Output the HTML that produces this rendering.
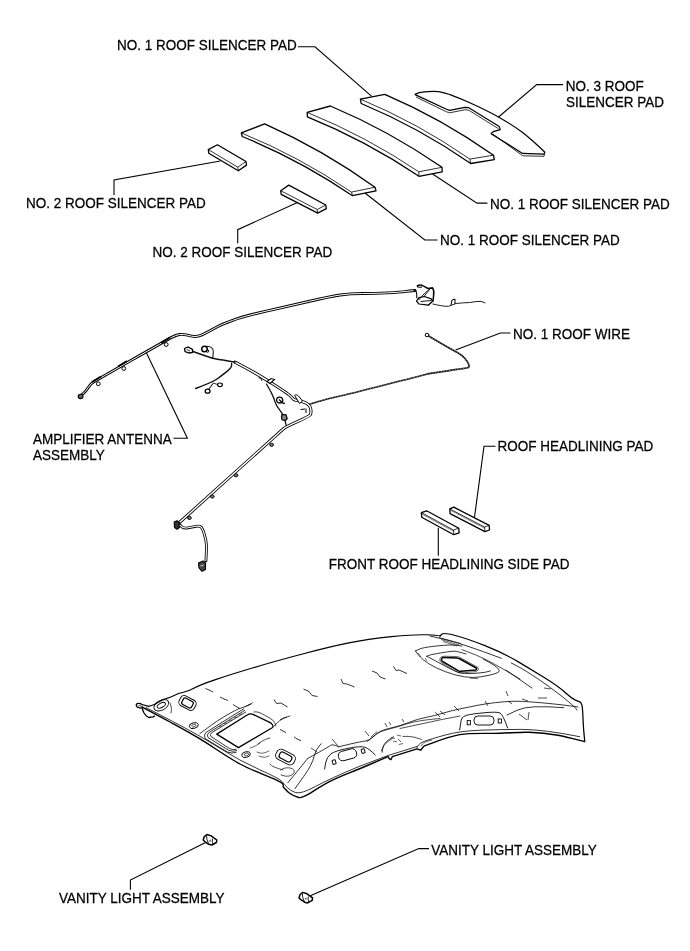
<!DOCTYPE html>
<html><head><meta charset="utf-8"><style>
html,body{margin:0;padding:0;background:#fff;width:690px;height:951px;overflow:hidden;}
svg{display:block;will-change:transform;}
text{font-family:"Liberation Sans",sans-serif;font-size:13.5px;fill:#000;stroke:#000;stroke-width:0.25px;}
</style></head><body>
<svg width="690" height="951" viewBox="0 0 690 951">
<path d="M360.4,99.1 L384.8,94.3 Q442.4,119.0 493.5,155.2 L494.3,159.6 L470.7,163.5 Q419.1,127.7 361.2,103.5 Z" fill="#fff" stroke="#000" stroke-width="1.3" stroke-linejoin="round"/><path d="M360.4,99.1 Q418.3,123.3 469.9,159.1 L493.5,155.2 M469.9,159.1 L470.7,163.5" fill="none" stroke="#000" stroke-width="0.8"/>
<path d="M307.2,112.4 L330.4,106.0 Q389.4,130.9 442.0,167.3 L442.2,171.8 L419.0,176.3 Q366.3,140.8 307.4,116.9 Z" fill="#fff" stroke="#000" stroke-width="1.3" stroke-linejoin="round"/><path d="M307.2,112.4 Q366.1,136.3 418.8,171.8 L442.0,167.3 M418.8,171.8 L419.0,176.3" fill="none" stroke="#000" stroke-width="0.8"/>
<path d="M241.3,132.9 L264.7,123.8 Q323.1,149.8 375.0,187.2 L376.0,190.8 L352.5,195.7 Q300.5,160.3 242.3,136.5 Z" fill="#fff" stroke="#000" stroke-width="1.3" stroke-linejoin="round"/><path d="M241.3,132.9 Q299.5,156.7 351.5,192.1 L375.0,187.2 M351.5,192.1 L352.5,195.7" fill="none" stroke="#000" stroke-width="0.8"/>
<path d="M208.3,149.6 L217.4,144.7 Q231.7,153.1 246.0,161.5 L246.5,165.1 L238.3,170.8 Q223.6,162.0 208.8,153.2 Z" fill="#fff" stroke="#000" stroke-width="1.3" stroke-linejoin="round"/><path d="M208.3,149.6 Q223.1,158.4 237.8,167.2 L246.0,161.5 M237.8,167.2 L238.3,170.8" fill="none" stroke="#000" stroke-width="0.8"/>
<path d="M280.7,190.7 L288.8,185.1 Q307.3,195.1 325.8,205.0 L326.3,208.6 L317.7,213.1 Q299.4,203.7 281.2,194.3 Z" fill="#fff" stroke="#000" stroke-width="1.3" stroke-linejoin="round"/><path d="M280.7,190.7 Q298.9,200.1 317.2,209.5 L325.8,205.0 M317.2,209.5 L317.7,213.1" fill="none" stroke="#000" stroke-width="0.8"/>
<path d="M415.1,94.3 C416.3,93.9 418.3,92.5 422.2,92.1 C426.1,91.6 433.7,91.1 438.4,91.6 C443.1,92.1 445.2,93.0 450.6,94.9 C456.0,96.9 462.8,99.5 470.9,103.3 C479.0,107.0 490.8,112.7 499.2,117.4 C507.6,122.1 515.5,127.3 521.6,131.7 C527.7,136.1 531.9,140.4 535.8,143.8 C539.7,147.2 543.4,150.9 544.9,152.3 L543.9,154.2 L522.6,153.4 L491.1,133.7 L493.2,131.7 L500.3,129.6 L499.2,126.6 L468.8,107.7 L464.8,107.3 L449.6,110.4 L446.5,109.3 L415.1,94.6 Z" fill="#fff" stroke="#000" stroke-width="1.2" stroke-linejoin="round"/>
<path d="M416,97 L446.5,111.8 L449.6,112.8 L464.8,109.8 L468.8,110.2 L498.5,128.8 M493,134.2 L522.8,155.8 L544,156.3 L544.5,154" fill="none" stroke="#000" stroke-width="0.8"/>
<polyline points="298,46.8 315,46.8 371.7,96.3" fill="none" stroke="#000" stroke-width="1.1"/>
<polyline points="563,84.6 536.7,84.6 498.6,117" fill="none" stroke="#000" stroke-width="1.1"/>
<polyline points="220.3,161 114,179.9 114,195" fill="none" stroke="#000" stroke-width="1.1"/>
<polyline points="297.4,202.4 237.7,229.7 237.7,243.3" fill="none" stroke="#000" stroke-width="1.1"/>
<polyline points="432.6,174 477,203.1 487.4,203.1" fill="none" stroke="#000" stroke-width="1.1"/>
<polyline points="365,193 424.8,240 437.5,240" fill="none" stroke="#000" stroke-width="1.1"/>
<path d="M82.0,394.5 L84.0,392.8 Q86.0,391.0 88.5,387.2 Q91.0,383.5 93.5,382.0 Q96.0,380.5 131.7,360.1 Q167.4,339.7 171.7,337.4 Q176.0,335.0 179.5,334.5 Q183.0,334.0 187.5,335.2 Q192.0,336.5 195.0,336.5 Q198.0,336.5 202.0,334.8 Q206.0,333.0 210.0,330.8 Q214.0,328.5 217.8,326.5 Q221.7,324.5 232.6,320.4 Q243.5,316.3 265.2,311.4 Q287.0,306.5 308.5,301.5 Q330.0,296.5 340.0,295.0 Q350.0,293.5 362.5,293.5 Q375.0,293.5 387.5,292.9 Q400.0,292.2 406.5,291.4 Q413.0,290.5 415.0,290.5" fill="none" stroke="#000" stroke-width="2.9" stroke-linecap="round" stroke-linejoin="round"/><path d="M82.0,394.5 L84.0,392.8 Q86.0,391.0 88.5,387.2 Q91.0,383.5 93.5,382.0 Q96.0,380.5 131.7,360.1 Q167.4,339.7 171.7,337.4 Q176.0,335.0 179.5,334.5 Q183.0,334.0 187.5,335.2 Q192.0,336.5 195.0,336.5 Q198.0,336.5 202.0,334.8 Q206.0,333.0 210.0,330.8 Q214.0,328.5 217.8,326.5 Q221.7,324.5 232.6,320.4 Q243.5,316.3 265.2,311.4 Q287.0,306.5 308.5,301.5 Q330.0,296.5 340.0,295.0 Q350.0,293.5 362.5,293.5 Q375.0,293.5 387.5,292.9 Q400.0,292.2 406.5,291.4 Q413.0,290.5 415.0,290.5" fill="none" stroke="#fff" stroke-width="1.0" stroke-linejoin="round"/>
<path d="M414.0,290.5 L415.4,290.6 Q416.8,290.8 416.8,297.7" fill="none" stroke="#111" stroke-width="1.2000000000000002" stroke-linecap="round" stroke-linejoin="round"/>
<ellipse cx="80.6" cy="396.4" rx="2.4" ry="2.2" fill="#666" stroke="#000" stroke-width="1.1"/>
<path d="M92,382 L101,376.5" stroke="#000" stroke-width="1.8"/>
<circle cx="98.3" cy="383.8" r="1.9" fill="#fff" stroke="#000" stroke-width="1"/>
<path d="M118,366.5 L127,361" stroke="#000" stroke-width="1.8"/>
<circle cx="123.8" cy="368.5" r="1.9" fill="#fff" stroke="#000" stroke-width="1"/>
<path d="M161,343 L170,337.5" stroke="#000" stroke-width="1.8"/>
<circle cx="166.2" cy="344.5" r="1.9" fill="#fff" stroke="#000" stroke-width="1"/>
<path d="M416.5,301.2 L419,297.7 L424.3,296.5 L431.3,298.9 L432.5,301.2 L428.4,305.2 L419,304 Z" fill="#fff" stroke="#000" stroke-width="1.2" stroke-linejoin="round"/>
<path d="M417.4,285.8 C419,284.5 422,285 422,285.5 C424,286 426,287.5 427.8,288.4 L432.5,287.9 C434,290 434,293 433.6,295.4 L433,301.2" fill="none" stroke="#000" stroke-width="1.5" stroke-linecap="round"/>
<path d="M417.4,285.8 C417,287 419,287.5 422,287" fill="none" stroke="#000" stroke-width="1.1"/>
<path d="M418.6,300 L424,294 L429,289.6 M424,296.5 L430,289 M420.5,301.5 L431,300.5 M428.4,305.2 L433,301" fill="none" stroke="#000" stroke-width="0.9"/>
<path d="M432.8,304.0 L436.4,304.8 Q440.0,305.5 444.5,306.2 Q449.0,307.0 452.0,305.0 Q455.0,303.0 462.5,302.9 Q470.0,302.8 475.8,301.6 Q481.5,300.5 485.0,302.8" fill="none" stroke="#111" stroke-width="0.96" stroke-linecap="round" stroke-linejoin="round"/>
<path d="M451,305 L452,300 L455,299 L455,304" fill="none" stroke="#000" stroke-width="1"/>
<path d="M427.4,335.3 L440.4,342.9 Q453.5,350.4 457.8,352.7 Q462.0,355.0 465.0,358.5 Q468.0,362.0 468.8,364.5 Q469.5,367.0 468.2,367.6 Q467.0,368.3 449.0,370.6 Q431.0,373.0 425.5,374.5 Q420.0,376.0 383.5,385.2 Q347.0,394.5 343.5,395.2 Q340.0,396.0 332.5,397.7 Q325.0,399.4 309.6,404.3" fill="none" stroke="#111" stroke-width="1.6800000000000002" stroke-linecap="round" stroke-linejoin="round"/>
<path d="M427.4,335.3 L440.4,342.9 Q453.5,350.4 457.8,352.7 Q462.0,355.0 465.0,358.5 Q468.0,362.0 468.8,364.5 Q469.5,367.0 468.2,367.6 Q467.0,368.3 449.0,370.6 Q431.0,373.0 425.5,374.5 Q420.0,376.0 383.5,385.2 Q347.0,394.5 343.5,395.2 Q340.0,396.0 332.5,397.7 Q325.0,399.4 309.6,404.3" fill="none" stroke="#fff" stroke-width="0.5" stroke-dasharray="1.2 1.6"/>
<circle cx="427" cy="335" r="1.8" fill="#fff" stroke="#000" stroke-width="1"/>
<path d="M235.0,362.2 L244.9,367.4 Q254.8,372.5 272.2,383.5 Q289.6,394.5 291.5,397.1 Q293.3,399.8 295.9,400.3 Q298.4,400.8 300.9,401.3 Q303.5,401.8 306.1,403.1 Q308.6,404.3 309.8,406.4 Q311.0,408.4 311.0,410.9 Q311.0,413.5 310.3,414.8 Q309.6,416.0 297.9,421.4 Q286.2,426.7 284.2,428.2 Q282.2,429.7 276.1,435.4 Q270.0,441.0 177.2,524.5" fill="none" stroke="#000" stroke-width="3.1" stroke-linecap="round" stroke-linejoin="round"/><path d="M235.0,362.2 L244.9,367.4 Q254.8,372.5 272.2,383.5 Q289.6,394.5 291.5,397.1 Q293.3,399.8 295.9,400.3 Q298.4,400.8 300.9,401.3 Q303.5,401.8 306.1,403.1 Q308.6,404.3 309.8,406.4 Q311.0,408.4 311.0,410.9 Q311.0,413.5 310.3,414.8 Q309.6,416.0 297.9,421.4 Q286.2,426.7 284.2,428.2 Q282.2,429.7 276.1,435.4 Q270.0,441.0 177.2,524.5" fill="none" stroke="#fff" stroke-width="1.4" stroke-linejoin="round"/>
<path d="M184.5,348.5 L188,347 L192.5,349.5 L192.5,352.5 L189,353 L185,351.5 Z" fill="#fff" stroke="#000" stroke-width="1.3"/><path d="M186.5,349.5 L190,351" stroke="#000" stroke-width="0.8"/>
<path d="M193.0,351.5 L202.8,355.0 Q212.6,358.5 216.3,359.0 Q220.0,359.5 235.0,362.2" fill="none" stroke="#111" stroke-width="1.36" stroke-linecap="round" stroke-linejoin="round"/>
<circle cx="204.5" cy="349" r="2.8" fill="#fff" stroke="#000" stroke-width="1.4"/>
<circle cx="207.5" cy="351" r="1.3" fill="none" stroke="#000" stroke-width="0.9"/>
<path d="M206.0,346.2 L208.5,346.4 Q211.0,346.5 212.5,348.8 Q214.0,351.0 212.6,358.5" fill="none" stroke="#111" stroke-width="1.04" stroke-linecap="round" stroke-linejoin="round"/>
<path d="M231.6,363.2 L231.6,365.5 Q231.6,367.8 225.8,372.4 Q220.0,377.0 216.3,379.5 Q212.6,382.0 195.6,388.5" fill="none" stroke="#111" stroke-width="1.36" stroke-linecap="round" stroke-linejoin="round"/>
<ellipse cx="220" cy="384.8" rx="2.4" ry="1.8" fill="#fff" stroke="#000" stroke-width="1.2"/>
<path d="M213.0,383.0 L217.5,384.5" fill="none" stroke="#111" stroke-width="0.8800000000000001" stroke-linecap="round" stroke-linejoin="round"/>
<path d="M212.6,384.0 L210.8,386.5 Q209.0,389.0 207.4,391.0" fill="none" stroke="#111" stroke-width="1.04" stroke-linecap="round" stroke-linejoin="round"/>
<ellipse cx="207.6" cy="391.2" rx="2.4" ry="2" fill="#fff" stroke="#000" stroke-width="1.3"/>
<path d="M266.4,384.0 L268.2,387.0 Q270.0,390.0 272.0,394.1 Q274.0,398.3 275.0,401.9 Q276.0,405.4 279.6,409.9 Q283.2,414.5 284.2,417.6 Q285.2,420.6 286.2,425.6" fill="none" stroke="#111" stroke-width="1.2800000000000002" stroke-linecap="round" stroke-linejoin="round"/>
<path d="M276.5,399.5 C277,397 280,396.5 282,398 C283.5,400 283,403 280,403 C278,403 276.5,401.5 276.5,399.5 Z" fill="#fff" stroke="#000" stroke-width="1.3"/>
<path d="M279,399.5 L283.5,403.5 L285,403" fill="none" stroke="#000" stroke-width="1.2"/>
<path d="M282,414.5 L286,414.8 L287.2,418.5 L285.5,420.5 L282,419.8 L281.5,417 Z" fill="#888" stroke="#000" stroke-width="1.2"/>
<path d="M267,381.5 L271,378.5 L274.5,379.5 L270,383.5 Z" fill="#fff" stroke="#000" stroke-width="1.1"/>
<path d="M258.5,378 L260.5,377.8 L262,381" fill="none" stroke="#000" stroke-width="0.9"/>
<path d="M294.6,395.5 C295,394.5 297,394.5 298.5,396 L302.5,401 L299.5,403.5 Z" fill="#fff" stroke="#000" stroke-width="1"/>
<path d="M300.5,409.5 L305,409 M306,408.5 L306,413" fill="none" stroke="#000" stroke-width="1"/>
<ellipse cx="271.6" cy="444.8" rx="1.9" ry="1.6" fill="#777" stroke="#000" stroke-width="0.9"/>
<ellipse cx="236" cy="475.3" rx="1.9" ry="1.6" fill="#777" stroke="#000" stroke-width="0.9"/>
<ellipse cx="212.3" cy="496.5" rx="1.9" ry="1.6" fill="#777" stroke="#000" stroke-width="0.9"/>
<ellipse cx="189.4" cy="517.9" rx="1.9" ry="1.6" fill="#777" stroke="#000" stroke-width="0.9"/>
<path d="M174.2,522 L177,520.8 L179.7,523 L179.5,527.5 L177,529.3 L174.5,527.5 Z" fill="#333" stroke="#000" stroke-width="1.1" stroke-linejoin="round"/>
<path d="M179.7,524.9 L181.9,526.8 Q184.1,528.6 188.1,527.8 Q192.2,527.0 195.9,526.3 Q199.6,525.6 201.1,527.1 Q202.6,528.6 204.4,534.5 Q206.2,540.3 206.4,544.8 Q206.6,549.2 205.9,561.0" fill="none" stroke="#000" stroke-width="2.8" stroke-linecap="round" stroke-linejoin="round"/><path d="M179.7,524.9 L181.9,526.8 Q184.1,528.6 188.1,527.8 Q192.2,527.0 195.9,526.3 Q199.6,525.6 201.1,527.1 Q202.6,528.6 204.4,534.5 Q206.2,540.3 206.4,544.8 Q206.6,549.2 205.9,561.0" fill="none" stroke="#fff" stroke-width="1.1" stroke-linejoin="round"/>
<path d="M198.5,563 L203,561 L205.5,563.5 L205.5,569.5 L202,571.3 L199,568 Z" fill="#444" stroke="#000" stroke-width="1.1" stroke-linejoin="round"/>
<path d="M200.5,566 L203.5,565" stroke="#fff" stroke-width="0.8"/>
<polyline points="146.5,353 187.4,438.3 173.5,438.3" fill="none" stroke="#000" stroke-width="1.1"/>
<polyline points="455.6,350 500.4,333 510.5,333" fill="none" stroke="#000" stroke-width="1.1"/>
<path d="M449.8,508.9 L453.8,507.2 Q471.5,516.2 489.2,525.3 L489.5,530.0 L484.9,531.7 Q467.5,522.7 450.1,513.6 Z" fill="#fff" stroke="#000" stroke-width="1.3" stroke-linejoin="round"/><path d="M449.8,508.9 Q467.2,518.0 484.6,527.0 L489.2,525.3 M484.6,527.0 L484.9,531.7" fill="none" stroke="#000" stroke-width="0.8"/>
<path d="M450.3,510.2 L484.9,528.4" stroke="#000" stroke-width="0.5"/>
<path d="M421.4,512.6 L426.6,510.8 Q442.7,519.5 458.8,528.2 L459.1,532.9 L453.8,534.7 Q437.8,526.0 421.7,517.3 Z" fill="#fff" stroke="#000" stroke-width="1.3" stroke-linejoin="round"/><path d="M421.4,512.6 Q437.4,521.3 453.5,530.0 L458.8,528.2 M453.5,530.0 L453.8,534.7" fill="none" stroke="#000" stroke-width="0.8"/>
<path d="M421.9,514 L453.8,531.4" stroke="#000" stroke-width="0.5"/>
<polyline points="474.5,517.3 484,446.3 495.5,446.3" fill="none" stroke="#000" stroke-width="1.1"/>
<polyline points="438.3,527.8 438.3,555.7" fill="none" stroke="#000" stroke-width="1.1"/>
<path d="M148.6,706.4 L150.9,705.8 Q153.2,705.3 157.8,702.4 Q162.5,699.5 165.4,698.9 Q168.3,698.3 173.5,695.7 Q178.7,693.1 183.3,692.2 Q188.0,691.4 193.8,688.2 Q199.6,685.0 215.5,679.6 Q231.4,674.3 253.2,667.8 Q275.0,661.2 302.5,654.0 Q330.0,646.7 348.8,642.9 Q367.6,639.0 391.5,636.6 Q415.4,634.3 426.5,634.8 Q437.7,635.3 440.0,636.0" fill="none" stroke="#000" stroke-width="1.15" stroke-linecap="round" stroke-linejoin="round"/>
<path d="M440.0,636.0 L441.8,634.2 Q443.5,632.4 455.2,635.5 Q467.0,638.5 485.5,645.9 Q504.0,653.3 518.0,661.6 Q531.9,670.0 545.0,678.0 Q558.0,686.0 565.2,692.5 Q572.5,699.0 575.4,700.1 Q578.3,701.2 579.8,701.9 Q581.2,702.6 581.9,705.2 Q582.6,707.7 583.0,717.9 Q583.3,728.0 584.8,741.5" fill="none" stroke="#000" stroke-width="1.25" stroke-linecap="round" stroke-linejoin="round"/>
<path d="M430.0,636.0 L446.0,639.8 Q462.0,643.5 501.4,658.3" fill="none" stroke="#000" stroke-width="0.8" stroke-linecap="round" stroke-linejoin="round"/>
<path d="M511.3,663.0 L518.0,666.5 Q524.6,670.0 537.7,678.7 Q550.7,687.4 563.0,697.2 Q575.4,707.0 577.0,710.0" fill="none" stroke="#000" stroke-width="0.8" stroke-linecap="round" stroke-linejoin="round"/>
<path d="M505.8,670.0 L531.9,688.0" fill="none" stroke="#000" stroke-width="0.8" stroke-linecap="round" stroke-linejoin="round"/>
<path d="M462.0,649.6 L475.4,654.8 Q488.7,660.0 520.0,679.0" fill="none" stroke="#000" stroke-width="0.7" stroke-linecap="round" stroke-linejoin="round"/>
<path d="M439,637.5 L461,643.5 M441,639.5 L459,645 M443,641.5 L457,646" stroke="#000" stroke-width="0.6"/>
<path d="M148.6,706.4 L142.2,704.5 Q139.5,702.8 137.2,703.5 Q135.5,705 137,706.8 Q139.5,708 142.2,708.2 Q143,711 143.9,712.8 Q146,716.5 148.6,717.5 L153.2,716.9 L155,715.7" fill="none" stroke="#000" stroke-width="1.3" stroke-linejoin="round"/>
<path d="M138.5,705.5 L143,706.3" stroke="#000" stroke-width="0.7"/>
<path d="M141.6,706.8 C146.3,709.3 160.3,716.7 170.0,722.0 C179.7,727.3 187.9,731.7 199.6,738.7 C211.3,745.7 226.8,756.9 240.0,764.0 C253.2,771.1 271.9,777.5 279.1,781.4 C286.4,785.3 281.8,785.3 283.5,787.2 C285.2,789.1 286.9,791.3 289.3,793.0 C291.7,794.7 295.4,796.8 298.0,797.3 C300.6,797.8 299.9,798.5 305.2,795.9 C310.5,793.2 321.0,785.9 330.0,781.4 C339.0,776.9 349.3,773.1 359.0,769.0 C368.7,764.9 383.2,758.8 388.0,756.7 L389.4,758.9 L390.9,759.6 L392.3,756.7 L417,748.8 L420.6,750.2 L424.2,745.9  C430.1,744.0 447.1,736.7 459.7,734.6 C472.3,732.5 488.4,733.7 500.0,733.3 C511.6,732.9 519.3,732.0 529.0,732.3 C538.7,732.6 548.7,733.6 558.0,735.2 C567.3,736.8 580.3,740.6 584.8,741.7" fill="none" stroke="#000" stroke-width="1.4" stroke-linejoin="round"/>
<path d="M146.0,707.5 L172.8,721.5 Q199.6,735.5 219.8,748.2 Q240.0,761.0 259.8,769.8 Q279.5,778.5 282.0,781.5 Q284.5,784.5 287.2,787.5 Q290.0,790.5 295.4,792.5 Q300.9,794.4 315.4,786.5 Q330.0,778.5 359.0,766.5 Q388.0,754.5 417.0,746.5" fill="none" stroke="#000" stroke-width="0.8" stroke-linecap="round" stroke-linejoin="round"/>
<path d="M417.0,747.5 L418.4,745.2 Q419.9,743.0 424.9,741.1 Q430.0,739.3 444.9,735.1 Q459.7,731.0 479.9,730.2 Q500.0,729.4 521.8,729.4 Q543.5,729.4 579.7,736.7" fill="none" stroke="#000" stroke-width="0.8" stroke-linecap="round" stroke-linejoin="round"/>
<path d="M421.0,746.0 L422.5,744.0 Q424.0,742.0 432.0,740.0" fill="none" stroke="#000" stroke-width="0.6" stroke-linecap="round" stroke-linejoin="round"/>
<path d="M382.2,752.4 L382.9,748.0 Q383.6,743.7 392.3,738.6" fill="none" stroke="#000" stroke-width="0.7" stroke-linecap="round" stroke-linejoin="round"/>
<path d="M391,737.5 L395,738.5 M397,735 L401,736 M393,741 L397,742 M398,739 L401,742 M399,744.5 L403,743.5" stroke="#000" stroke-width="0.6"/>
<path d="M402.9,736.4 L408.1,736.4 Q413.3,736.4 421.5,739.3" fill="none" stroke="#000" stroke-width="0.7" stroke-linecap="round" stroke-linejoin="round"/>
<path d="M287.8,782.8 L308.0,758.2" fill="none" stroke="#000" stroke-width="0.8" stroke-linecap="round" stroke-linejoin="round"/>
<path d="M295.0,788.6 L303.8,776.3 Q312.5,764.0 313.9,756.8 Q315.4,749.5 321.0,743.7" fill="none" stroke="#000" stroke-width="0.8" stroke-linecap="round" stroke-linejoin="round"/>
<path d="M308.0,758.2 L309.2,757.6 Q310.4,757.0 319.5,751.9 Q328.7,746.8 330.7,745.3 Q332.7,743.8 338.8,746.8" fill="none" stroke="#000" stroke-width="0.8" stroke-linecap="round" stroke-linejoin="round"/>
<path d="M338.8,746.8 L349.9,744.1 Q361.0,741.5 365.1,741.1 Q369.2,740.7 374.3,735.7 Q379.4,730.6 389.7,728.3 Q400.0,726.0 408.7,722.5 Q417.4,719.0 426.1,717.4 Q434.8,715.7 443.5,713.0 Q452.2,710.4 460.9,708.7 Q469.6,707.0 478.3,705.2 Q487.0,703.5 495.6,702.6 Q504.3,701.7 512.1,701.3 Q520.0,700.9 541.9,702.8 Q563.8,704.8 578.0,707.0" fill="none" stroke="#000" stroke-width="0.8" stroke-linecap="round" stroke-linejoin="round"/>
<path d="M367.0,741.7 L369.3,740.0 Q371.6,738.2 375.6,734.7 Q379.7,731.2 387.2,729.5 Q394.8,727.8 406.4,724.0 Q418.0,720.2 440.0,718.5" fill="none" stroke="#000" stroke-width="0.7" stroke-linecap="round" stroke-linejoin="round"/>
<path d="M371.0,737.0 L377.0,731.5" fill="none" stroke="#000" stroke-width="0.6" stroke-linecap="round" stroke-linejoin="round"/>
<path d="M400.0,728.5 L421.8,723.8 Q443.5,719.0 460.0,716.0" fill="none" stroke="#000" stroke-width="0.7" stroke-linecap="round" stroke-linejoin="round"/>
<path d="M507.0,715.0 L518.0,709.9 Q529.0,704.8 563.8,707.7" fill="none" stroke="#000" stroke-width="0.8" stroke-linecap="round" stroke-linejoin="round"/>
<path d="M311,748 L317,752" stroke="#000" stroke-width="0.7"/>
<path d="M332,739 L338,746" stroke="#000" stroke-width="0.7"/>
<path d="M365,731 L369,736" stroke="#000" stroke-width="0.7"/>
<path d="M385,723 L387,727" stroke="#000" stroke-width="0.7"/>
<path d="M389,722 L391,725" stroke="#000" stroke-width="0.7"/>
<path d="M402,719 L404,722" stroke="#000" stroke-width="0.7"/>
<path d="M434.8,712 L440,717" stroke="#000" stroke-width="0.7"/>
<path d="M440,711 L445,715" stroke="#000" stroke-width="0.7"/>
<path d="M454,706 L459,711" stroke="#000" stroke-width="0.7"/>
<path d="M485,701 L488,706" stroke="#000" stroke-width="0.7"/>
<path d="M508,701 L512,704" stroke="#000" stroke-width="0.7"/>
<path d="M522,699 L528,701" stroke="#000" stroke-width="0.7"/>
<path d="M538,698 L547,698" stroke="#000" stroke-width="0.7"/>
<path d="M544,688 L551,689" stroke="#000" stroke-width="0.7"/>
<path d="M519,714 L527,720" stroke="#000" stroke-width="0.7"/>
<path d="M529,712 L528,720" stroke="#000" stroke-width="0.7"/>
<path d="M506,691 L508,696" stroke="#000" stroke-width="0.7"/>
<ellipse cx="161.3" cy="705.3" rx="8" ry="4.8" transform="rotate(-28 161.3 705.3)" fill="none" stroke="#000" stroke-width="0.9"/>
<ellipse cx="161.3" cy="705.3" rx="4.5" ry="2.2" transform="rotate(-28 161.3 705.3)" fill="none" stroke="#000" stroke-width="0.9"/>
<path d="M170.0,703.0 L171.0,706.0 Q172.0,709.0 171.0,713.0" fill="none" stroke="#000" stroke-width="0.7" stroke-linecap="round" stroke-linejoin="round"/>
<rect x="179" y="697.5" width="17" height="11" rx="4" transform="rotate(28 187.5 703)" fill="none" stroke="#000" stroke-width="0.9"/>
<rect x="182" y="699.5" width="11" height="7" rx="2" transform="rotate(28 187.5 703)" fill="none" stroke="#000" stroke-width="1.2"/>
<ellipse cx="193.8" cy="725.6" rx="4.6" ry="2.8" transform="rotate(-15 193.8 725.6)" fill="none" stroke="#000" stroke-width="0.9"/>
<ellipse cx="193.8" cy="725.6" rx="2.2" ry="1.2" transform="rotate(-15 193.8 725.6)" fill="none" stroke="#000" stroke-width="0.6"/>
<path d="M216.7,734.1 L247.2,715 Q250.5,713 254,714.8 L271.2,723.2 Q274,726 272.6,727.5 L238.5,747.6 Z" fill="none" stroke="#000" stroke-width="1.3" stroke-linejoin="round"/>
<path d="M246,711.8 L211.5,732.8 Q209.5,734.5 211,736.5 L229.5,748.5 Q233,750.5 236.5,749.2" fill="none" stroke="#000" stroke-width="0.8"/>
<path d="M245,710.2 L208.8,732.6 Q206.5,734.5 208,737.5 L228.5,750.2 Q232.5,752.2 237,750.5" fill="none" stroke="#000" stroke-width="0.8"/>
<path d="M244,708.6 L206,732.4 Q203.5,734.5 205,738.5 L227.5,752 Q232,754 236.5,752.2" fill="none" stroke="#000" stroke-width="0.8"/>
<path d="M219,726.5 L222,726 M224,723.5 L227,723 M229,720.5 L232,720 M234,717.5 L237,717 M239,714.5 L242,714" stroke="#000" stroke-width="0.5"/>
<path d="M199.8,733.7 L204.9,729.9 Q210.0,726.0 216.4,721.6 Q222.8,717.2 230.7,712.9 Q238.5,708.5 241.8,707.8 Q245.0,707.0 250.9,704.3" fill="none" stroke="#000" stroke-width="0.8" stroke-linecap="round" stroke-linejoin="round"/>
<path d="M245,707 L247,705 M247,706 L249,704 M249,705 L251,703 M251,704 L253,702" stroke="#000" stroke-width="0.6"/>
<path d="M254.0,712.0 L256.0,711.8 Q258.0,711.5 264.0,714.8 Q270.0,718.0 272.8,720.2 Q275.5,722.5 276.0,726.0" fill="none" stroke="#000" stroke-width="0.7" stroke-linecap="round" stroke-linejoin="round"/>
<path d="M274.0,726.0 L277.0,723.0 Q280.0,720.0 283.0,718.5 Q286.0,717.0 290.0,716.0" fill="none" stroke="#000" stroke-width="0.7" stroke-linecap="round" stroke-linejoin="round"/>
<path d="M258.0,744.0 L261.5,741.5 Q265.0,739.0 270.0,738.0" fill="none" stroke="#000" stroke-width="0.7" stroke-linecap="round" stroke-linejoin="round"/>
<path d="M250.0,748.0 L253.0,747.0 Q256.0,746.0 260.0,743.0" fill="none" stroke="#000" stroke-width="0.6" stroke-linecap="round" stroke-linejoin="round"/>
<ellipse cx="246" cy="754.6" rx="4.4" ry="2.8" transform="rotate(-15 246 754.6)" fill="none" stroke="#000" stroke-width="0.9"/>
<ellipse cx="246.5" cy="754.6" rx="2.2" ry="1.3" transform="rotate(-15 246 754.6)" fill="none" stroke="#000" stroke-width="0.6"/>
<rect x="275.5" y="751.5" width="20" height="11" rx="4.5" transform="rotate(27 285.5 757)" fill="none" stroke="#000" stroke-width="0.9"/>
<rect x="279" y="753.8" width="13" height="6.4" rx="2.5" transform="rotate(27 285.5 757)" fill="none" stroke="#000" stroke-width="1.2"/>
<path d="M280.6,770.0 L282.3,769.0 Q284.0,768.0 287.0,767.8 Q290.0,767.6 292.5,768.8 Q295.0,770.0 294.0,772.5 Q293.0,775.0 289.5,776.0 Q286.0,777.0 281.0,775.0" fill="none" stroke="#000" stroke-width="0.7" stroke-linecap="round" stroke-linejoin="round"/>
<path d="M270.0,764.0 L271.5,765.5 Q273.0,767.0 283.0,770.0" fill="none" stroke="#000" stroke-width="0.7" stroke-linecap="round" stroke-linejoin="round"/>
<path d="M259.0,756.0 L262.0,757.0 Q265.0,758.0 269.0,756.0" fill="none" stroke="#000" stroke-width="0.6" stroke-linecap="round" stroke-linejoin="round"/>
<path d="M257.0,752.0 L260.0,753.0 Q263.0,754.0 269.0,751.0" fill="none" stroke="#000" stroke-width="0.6" stroke-linecap="round" stroke-linejoin="round"/>
<path d="M441.5,659.5 Q442,657.5 444,657.6 L456.7,658 Q458.5,658.2 460,659 L476.3,668 Q477,669.5 475.6,670 L461,671.3 Q459.5,671.3 458.5,670.8 L442.5,661.5 Q441,660.5 441.5,659.5 Z" fill="none" stroke="#000" stroke-width="1.5" stroke-linejoin="round"/>
<path d="M439.8,659 Q440.8,656 444,656.2 L457,656.6 Q459,656.8 461,658 L478,667.5 Q479.5,670.5 476,671.6 L461,673 Q459,673 457.5,672.3 L441.5,662.8 Q439.3,661.2 439.8,659 Z" fill="none" stroke="#000" stroke-width="0.6"/>
<path d="M426.7,656.3 L428.9,655.4 Q431.0,654.5 441.5,652.8 Q452.0,651.0 455.0,651.2 Q458.0,651.5 466.0,654.0" fill="none" stroke="#000" stroke-width="0.8" stroke-linecap="round" stroke-linejoin="round"/>
<path d="M426.7,656.3 L429.4,657.6 Q432.0,659.0 439.0,662.8 Q446.0,666.5 452.4,669.9 Q458.9,673.2 464.4,673.5 Q470.0,673.8 478.0,673.1 Q486.0,672.5 490.4,671.0" fill="none" stroke="#000" stroke-width="0.8" stroke-linecap="round" stroke-linejoin="round"/>
<path d="M415.4,651.0 L418.9,649.3 Q422.4,647.6 433.7,646.3 Q445.0,645.0 451.0,645.0 Q457.0,645.0 462.0,646.0" fill="none" stroke="#000" stroke-width="0.8" stroke-linecap="round" stroke-linejoin="round"/>
<path d="M415.4,651.0 L417.7,654.0 Q420.0,657.0 423.8,660.2 Q427.6,663.5 436.3,667.8 Q445.0,672.0 455.0,674.8 Q465.0,677.5 472.5,677.5 Q480.0,677.5 489.9,675.1 Q499.8,672.8 499.4,670.6 Q499.0,668.5 494.0,665.2 Q489.0,662.0 483.0,659.0" fill="none" stroke="#000" stroke-width="0.8" stroke-linecap="round" stroke-linejoin="round"/>
<path d="M418,653 L421,657 M425,658 L427,661 M470,678.2 L478,678.5" stroke="#000" stroke-width="0.6"/>
<path d="M459.7,729.9 L460.4,725.0 Q461.0,720.0 461.9,718.2 Q462.9,716.5 466.9,715.2 Q471.0,714.0 484.0,712.8 Q497.0,711.5 500.0,713.0 Q503.0,714.5 507.6,728.0" fill="none" stroke="#000" stroke-width="0.9" stroke-linecap="round" stroke-linejoin="round"/>
<rect x="474" y="716" width="20" height="9" rx="4" fill="none" stroke="#000" stroke-width="0.9"/>
<rect x="467.2" y="720.6" width="3.2" height="4.2" fill="none" stroke="#000" stroke-width="0.9"/>
<rect x="498.2" y="719" width="3.2" height="4" fill="none" stroke="#000" stroke-width="0.9"/>
<path d="M324.6,769.0 L325.6,763.0 Q326.7,757.0 330.8,754.0 Q334.8,750.9 348.0,748.3 Q361.1,745.8 365.1,747.3 Q369.2,748.8 375.3,755.0" fill="none" stroke="#000" stroke-width="0.9" stroke-linecap="round" stroke-linejoin="round"/>
<rect x="338.5" y="750" width="18.5" height="9.5" rx="4.2" transform="rotate(-15 347.7 755.7)" fill="none" stroke="#000" stroke-width="0.9"/>
<rect x="332.5" y="760" width="3.2" height="4.2" transform="rotate(-15 334 762)" fill="none" stroke="#000" stroke-width="0.9"/>
<rect x="361.5" y="749" width="3.2" height="4.2" transform="rotate(-15 363 751)" fill="none" stroke="#000" stroke-width="0.9"/>
<path d="M381.4,751.0 L383.4,745.9 Q385.5,740.7 393.6,736.7" fill="none" stroke="#000" stroke-width="0.7" stroke-linecap="round" stroke-linejoin="round"/>
<polyline points="205.5,688.5 209.0,690.0 213.0,692.0" fill="none" stroke="#000" stroke-width="0.8" stroke-linejoin="round"/>
<polyline points="220.0,697.0 224.0,699.0 228.0,700.5" fill="none" stroke="#000" stroke-width="0.8" stroke-linejoin="round"/>
<polyline points="233.0,704.5 237.0,707.0 240.0,708.5" fill="none" stroke="#000" stroke-width="0.8" stroke-linejoin="round"/>
<polyline points="274.0,699.5 276.5,703.5 281.0,703.0 287.5,707.0" fill="none" stroke="#000" stroke-width="0.8" stroke-linejoin="round"/>
<polyline points="303.5,689.0 309.0,691.5 312.0,695.5 317.5,696.5" fill="none" stroke="#000" stroke-width="0.8" stroke-linejoin="round"/>
<polyline points="341.0,679.0 343.0,683.5 347.0,684.0 354.5,687.0" fill="none" stroke="#000" stroke-width="0.8" stroke-linejoin="round"/>
<polyline points="372.0,671.0 377.0,673.0 380.0,677.0 385.5,679.0" fill="none" stroke="#000" stroke-width="0.8" stroke-linejoin="round"/>
<polyline points="393.5,666.5 396.0,670.5 399.0,670.0 407.0,673.5" fill="none" stroke="#000" stroke-width="0.8" stroke-linejoin="round"/>
<polyline points="280.0,720.0 284.0,718.0 287.0,717.0" fill="none" stroke="#000" stroke-width="0.8" stroke-linejoin="round"/>
<polyline points="280.0,729.5 283.0,731.0 286.0,732.6" fill="none" stroke="#000" stroke-width="0.8" stroke-linejoin="round"/>
<polyline points="294.0,736.7 297.0,739.0 301.0,740.7" fill="none" stroke="#000" stroke-width="0.8" stroke-linejoin="round"/>
<path d="M203.2,840.0 L204.3,836.6 L207.0,834.5 L211.2,835.9 L216.8,840.0 L216.4,842.5 L211.9,845.0 L208.8,844.3 L205.0,841.8 Z" fill="#fff" stroke="#000" stroke-width="1.5" stroke-linejoin="round"/><path d="M212.6,838.6 Q211.8,841.5 213.0,844.0 M206.5,835.5 Q206.5,840.0 208.5,843.5" fill="none" stroke="#000" stroke-width="0.9"/><path d="M210.8,840.0 L209.5,840.8 L210.5,841.7" fill="none" stroke="#000" stroke-width="0.9"/>
<polyline points="205.6,842.5 130.4,880 130.4,889.8" fill="none" stroke="#000" stroke-width="1.1"/>
<path d="M299.0,897.9 L300.1,894.5 L302.8,892.4 L307.0,893.8 L312.6,897.9 L312.2,900.4 L307.7,902.9 L304.6,902.2 L300.8,899.7 Z" fill="#fff" stroke="#000" stroke-width="1.5" stroke-linejoin="round"/><path d="M308.4,896.5 Q307.6,899.4 308.8,901.9 M302.3,893.4 Q302.3,897.9 304.3,901.4" fill="none" stroke="#000" stroke-width="0.9"/><path d="M306.6,897.9 L305.3,898.7 L306.3,899.6" fill="none" stroke="#000" stroke-width="0.9"/>
<polyline points="310.3,895.7 418.8,848.6 429,848.6" fill="none" stroke="#000" stroke-width="1.1"/>
<text transform="translate(117 50) scale(1 1.04)">NO. 1 ROOF SILENCER PAD</text>
<text transform="translate(565.8 91) scale(1 1.04)">NO. 3 ROOF</text>
<text transform="translate(566 107) scale(1 1.04)">SILENCER PAD</text>
<text transform="translate(26 208) scale(1 1.04)">NO. 2 ROOF SILENCER PAD</text>
<text transform="translate(490 208.5) scale(1 1.04)">NO. 1 ROOF SILENCER PAD</text>
<text transform="translate(152.6 256.5) scale(1 1.04)">NO. 2 ROOF SILENCER PAD</text>
<text transform="translate(440 245) scale(1 1.04)">NO. 1 ROOF SILENCER PAD</text>
<text transform="translate(513 339) scale(1 1.04)">NO. 1 ROOF WIRE</text>
<text transform="translate(33 444) scale(1 1.04)">AMPLIFIER ANTENNA</text>
<text transform="translate(33 460) scale(1 1.04)">ASSEMBLY</text>
<text transform="translate(497.6 450.7) scale(1 1.04)">ROOF HEADLINING PAD</text>
<text transform="translate(328.7 569) scale(1 1.04)">FRONT ROOF HEADLINING SIDE PAD</text>
<text transform="translate(431.3 855) scale(1 1.04)">VANITY LIGHT ASSEMBLY</text>
<text transform="translate(59 903) scale(1 1.04)">VANITY LIGHT ASSEMBLY</text>
</svg></body></html>
